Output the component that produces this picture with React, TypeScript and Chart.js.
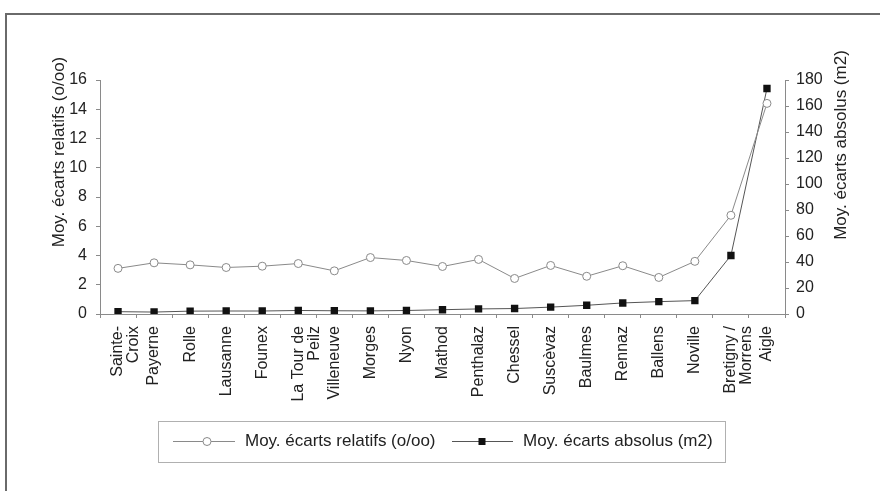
import React, { useEffect, useRef } from 'react';
import { Chart, registerables } from 'chart.js';

Chart.register(...registerables);

const categories: (string | string[])[] = [
  ['Sainte-', 'Croix'], 'Payerne', 'Rolle', 'Lausanne', 'Founex', ['La Tour de', 'Peilz'],
  'Villeneuve', 'Morges', 'Nyon', 'Mathod', 'Penthalaz', 'Chessel', 'Suscèvaz', 'Baulmes',
  'Rennaz', 'Ballens', 'Noville', ['Bretigny /', 'Morrens'], 'Aigle',
];
const relativeValues = [3.12, 3.5, 3.36, 3.18, 3.27, 3.45, 2.95, 3.86, 3.66, 3.25, 3.73, 2.43, 3.32, 2.58, 3.3, 2.5, 3.6, 6.75, 14.4];
const absoluteValues = [1.8, 1.5, 2.2, 2.3, 2.3, 2.7, 2.5, 2.4, 2.7, 3.3, 3.9, 4.2, 5.3, 6.7, 8.5, 9.5, 10.3, 45, 173.5];
const relativeLabel = 'Moy. écarts relatifs (o/oo)';
const absoluteLabel = 'Moy. écarts absolus (m2)';
const leftAxis = [0, 16, 2];
const rightAxis = [0, 180, 20];

const FONT = '"Liberation Sans", Arial, sans-serif';
const TEXT = '#222';
const AXIS = '#8a8a8a';

const decor = {
  id: 'decor',
  beforeDraw(chart: any) {
    const ctx = chart.ctx;
    ctx.save();
    ctx.fillStyle = '#fff';
    ctx.fillRect(0, 0, chart.width, chart.height);
    ctx.strokeStyle = '#6a6a6a';
    ctx.lineWidth = 2;
    ctx.beginPath();
    ctx.moveTo(6, chart.height);
    ctx.lineTo(6, 14);
    ctx.lineTo(chart.width, 14);
    ctx.stroke();
    ctx.restore();
  },
  afterDraw(chart: any) {
    const ctx = chart.ctx;
    ctx.save();
    ctx.font = `17px ${FONT}`;
    ctx.fillStyle = TEXT;
    ctx.textAlign = 'center';
    ctx.textBaseline = 'middle';
    ctx.save();
    ctx.translate(59, 152);
    ctx.rotate(-Math.PI / 2);
    ctx.fillText(relativeLabel, 0, 0);
    ctx.restore();
    ctx.save();
    ctx.translate(841, 145);
    ctx.rotate(-Math.PI / 2);
    ctx.fillText(absoluteLabel, 0, 0);
    ctx.restore();

    // legend box
    ctx.strokeStyle = '#b0b0b0';
    ctx.lineWidth = 1;
    ctx.strokeRect(158.5, 421.5, 567, 41);
    const cy = 441.5;
    // item 1
    ctx.strokeStyle = '#8a8a8a';
    ctx.beginPath();
    ctx.moveTo(173, cy);
    ctx.lineTo(235, cy);
    ctx.stroke();
    ctx.fillStyle = '#fff';
    ctx.beginPath();
    ctx.arc(207, cy, 4, 0, Math.PI * 2);
    ctx.fill();
    ctx.stroke();
    ctx.fillStyle = TEXT;
    ctx.textAlign = 'left';
    ctx.fillText(relativeLabel, 245, cy);
    // item 2
    ctx.strokeStyle = '#555';
    ctx.beginPath();
    ctx.moveTo(452, cy);
    ctx.lineTo(513, cy);
    ctx.stroke();
    ctx.fillStyle = '#111';
    ctx.fillRect(482 - 3.5, cy - 3.5, 7, 7);
    ctx.fillStyle = TEXT;
    ctx.fillText(absoluteLabel, 523, cy);
    ctx.restore();
  },
};

export default function App() {
  const ref = useRef<HTMLCanvasElement>(null);
  useEffect(() => {
    if (!ref.current) return;
    const chart = new Chart(ref.current, {
      type: 'line',
      data: {
        labels: categories as any,
        datasets: [
          {
            label: relativeLabel,
            data: relativeValues,
            yAxisID: 'y',
            borderColor: '#8a8a8a',
            borderWidth: 1,
            pointStyle: 'circle',
            pointRadius: 4,
            pointBackgroundColor: '#fff',
            pointBorderColor: '#8a8a8a',
            pointBorderWidth: 1,
            tension: 0,
          },
          {
            label: absoluteLabel,
            data: absoluteValues,
            yAxisID: 'y1',
            borderColor: '#555',
            borderWidth: 1,
            pointStyle: 'rect',
            pointRadius: 5.2,
            pointBackgroundColor: '#111',
            pointBorderColor: '#111',
            pointBorderWidth: 0,
            tension: 0,
          },
        ],
      },
      options: {
        responsive: false,
        animation: false,
        layout: { padding: { top: 80, left: 0, right: 0, bottom: 0 } },
        plugins: { legend: { display: false }, tooltip: { enabled: false } },
        scales: {
          x: {
            offset: true,
            grid: { display: true, drawOnChartArea: false, offset: true, tickLength: 4, color: AXIS },
            border: { display: true, color: AXIS },
            ticks: {
              autoSkip: false,
              minRotation: 90,
              maxRotation: 90,
              padding: 8,
              color: TEXT,
              font: { family: FONT, size: 16, lineHeight: 1.0 },
            },
            afterFit: (s: any) => { s.height = 177; },
          },
          y: {
            position: 'left',
            min: leftAxis[0],
            max: leftAxis[1],
            grid: { drawOnChartArea: false, tickLength: 4, color: AXIS },
            border: { display: true, color: AXIS },
            ticks: { stepSize: leftAxis[2], padding: 9, color: TEXT, font: { family: FONT, size: 16 } },
            afterFit: (s: any) => { s.width = 100; },
          },
          y1: {
            position: 'right',
            min: rightAxis[0],
            max: rightAxis[1],
            grid: { drawOnChartArea: false, tickLength: 4, color: AXIS },
            border: { display: true, color: AXIS },
            ticks: { stepSize: rightAxis[2], padding: 7, color: TEXT, font: { family: FONT, size: 16 } },
            afterFit: (s: any) => { s.width = 95; },
          },
        },
      },
      plugins: [decor],
    });
    return () => chart.destroy();
  }, []);
  return (
    <div style={{ position: 'fixed', left: 0, top: 0, width: 880, height: 491, background: '#fff' }}>
      <canvas ref={ref} width={880} height={491} style={{ display: 'block' }} />
    </div>
  );
}
